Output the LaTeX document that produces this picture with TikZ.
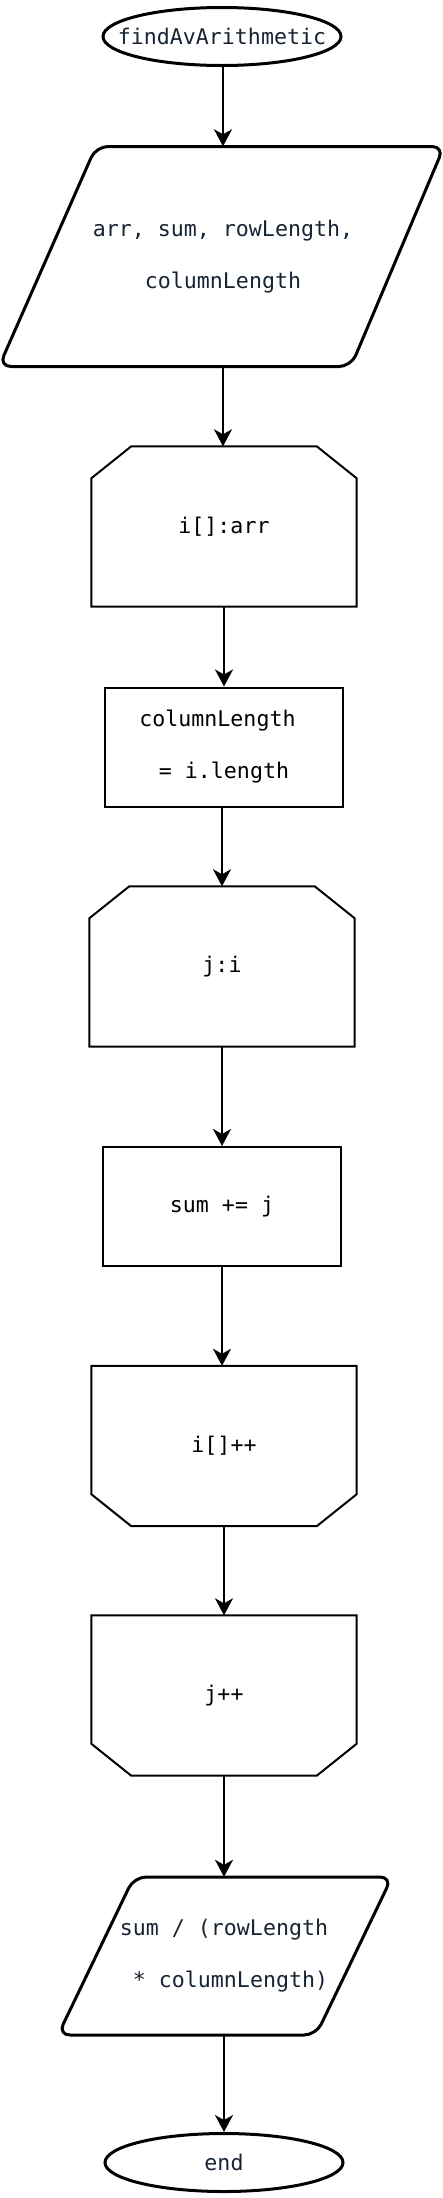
\documentclass[tikz,border=0pt]{standalone}
\usepackage{fontspec}
\newfontfamily\codefont{DejaVu Sans Mono}
\usetikzlibrary{shapes.geometric,arrows.meta,calc}
\definecolor{navy}{RGB}{22,36,52}
\begin{document}
\begin{tikzpicture}[x=1pt,y=-1pt,
  base/.style={font=\codefont\fontsize{21.6}{52}\selectfont, align=center, inner sep=0pt},
  term/.style={base, ellipse, draw, line width=3pt, minimum width=238pt, minimum height=58pt, text=navy},
  iobox/.style={base, minimum width=340pt, minimum height=220pt, text=navy},
  procbox/.style={base, rectangle, draw, line width=2pt, minimum width=238pt, minimum height=119pt},
  loopbox/.style={base, minimum width=265pt, minimum height=160pt},
  arr/.style={line width=2pt, -{Stealth[length=17pt,width=18pt,inset=5pt]}},
  loopline/.style={line width=2pt, line join=miter},
  ioline/.style={line width=3pt, rounded corners=12pt},
]
\useasboundingbox (0,0) rectangle (442,2198);

% nodes
\node[term] (start) at (222,36.5) {\makebox[0pt]{findAvArithmetic}};
\node[iobox] (in) at (223,256.5) {arr, sum, rowLength,\\columnLength};
\node[loopbox] (loopi) at (224,526.5) {i[]:arr};
\node[procbox] (len) at (224,747) {columnLength\hphantom{x}\\\hphantom{x}= i.length\hphantom{x}};
\node[loopbox] (loopj) at (222,966.5) {j:i};
\node[procbox] (add) at (222,1206.5) {sum += j};
\node[loopbox] (endi) at (224,1446) {i[]++};
\node[loopbox] (endj) at (224,1695.5) {j++};
\node[iobox, minimum width=250pt, minimum height=158pt] (out) at (224,1956) {sum / (rowLength\\\hphantom{x}* columnLength)};
\node[term] (stop) at (224,2162.5) {\makebox[0pt]{end}};

% parallelogram outlines
\draw[ioline] ($(in.center)+(50,-110)$) -- ($(in.center)+(221,-110)$) -- ($(in.center)+(128,110)$)
  -- ($(in.center)+(-224,110)$) -- ($(in.center)+(-127,-110)$) -- cycle;
\draw[ioline] ($(out.center)+(40,-79)$) -- ($(out.center)+(168,-79)$) -- ($(out.center)+(92,79)$)
  -- ($(out.center)+(-166,79)$) -- ($(out.center)+(-90,-79)$) -- cycle;

% loop limit outlines (top chamfer)
\foreach \n in {loopi,loopj}{
  \draw[loopline] ($(\n.north west)+(40,0)$) -- ($(\n.north east)+(-40,0)$) -- ($(\n.north east)+(0,32)$)
    -- (\n.south east) -- (\n.south west) -- ($(\n.north west)+(0,32)$) -- cycle;
}
% loop limit outlines (bottom chamfer)
\foreach \n in {endi,endj}{
  \draw[loopline] (\n.north west) -- (\n.north east) -- ($(\n.south east)+(0,-32)$)
    -- ($(\n.south east)+(-40,0)$) -- ($(\n.south west)+(40,0)$) -- ($(\n.south west)+(0,-32)$) -- cycle;
}

% connectors (vertical, landing on the target's top centre)
\draw[arr] (start.south -| in.north) -- (in.north);
\draw[arr] (in.south) -- (in.south |- loopi.north);
\draw[arr] (loopi.south) -- (len.north);
\draw[arr] (len.south -| loopj.north) -- (loopj.north);
\draw[arr] (loopj.south) -- (add.north);
\draw[arr] (add.south) -- (add.south |- endi.north);
\draw[arr] (endi.south) -- (endj.north);
\draw[arr] (endj.south) -- (out.north);
\draw[arr] (out.south) -- (stop.north);
\end{tikzpicture}
\end{document}
